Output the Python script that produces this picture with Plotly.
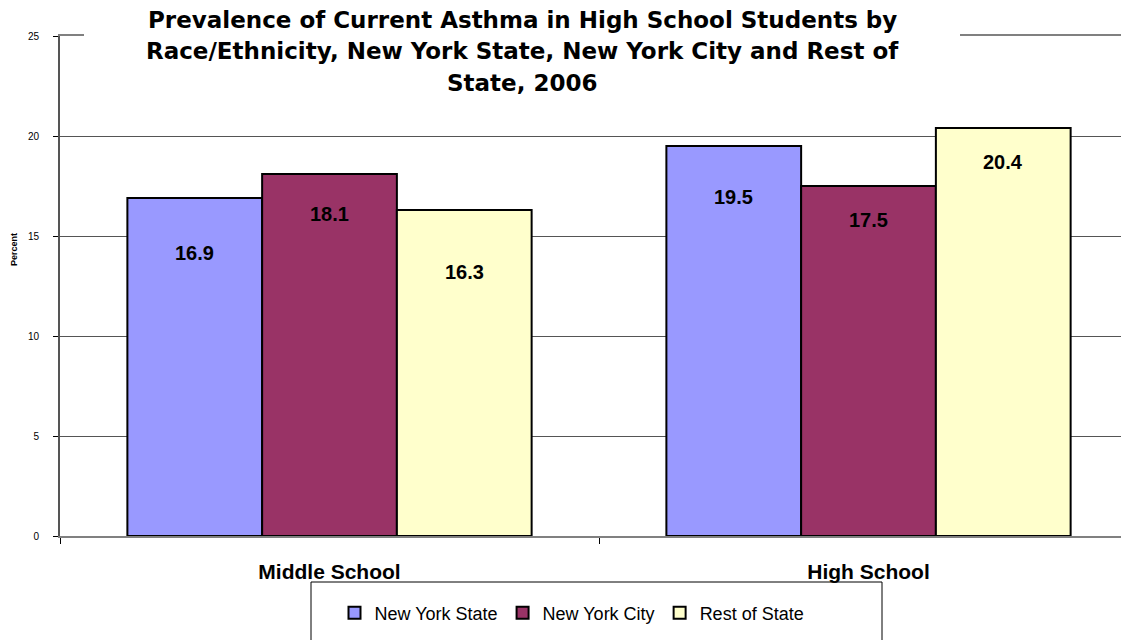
import plotly.graph_objects as go

categories = ["Middle School", "High School"]
series_names = ["New York State", "New York City", "Rest of State"]
nys_values = [16.9, 19.5]
nyc_values = [18.1, 17.5]
ros_values = [16.3, 20.4]
series_values = [nys_values, nyc_values, ros_values]
y_ticks = [0, 5, 10, 15, 20, 25]
title_lines = [
    "Prevalence of Current Asthma in High School Students by",
    "Race/Ethnicity, New York State, New York City and Rest of",
    "State, 2006",
]

colors = ["#9999FF", "#993366", "#FFFFCC"]
label_drop_px = [[55, 51], [40, 34], [62, 34]]

OFF = 8  # page body margin
W, H = 1129 - OFF, 640 - OFF
ML, MR, MT, MB = 60 - OFF, 0, 36 - OFF, 104
PW, PH = W - ML - MR, H - MT - MB


def px_x(p):
    return (p - OFF - ML) / PW


def px_y(p):
    return (H - MB - (p - OFF)) / PH


FONT = "Arial, Liberation Sans, sans-serif"
BARGAP = 0.25

fig = go.Figure()
for name, vals, col in zip(series_names, series_values, colors):
    fig.add_trace(go.Bar(
        name=name, x=categories, y=vals,
        marker=dict(color=col, line=dict(color="black", width=2)),
    ))

annotations = []
n = len(series_names)
bw = (1 - BARGAP) / n
for k, vals in enumerate(series_values):
    for i, v in enumerate(vals):
        annotations.append(dict(
            x=i - (1 - BARGAP) / 2 + bw * (k + 0.5), y=v, xref="x", yref="y",
            text=f"<b>{v:.1f}</b>", showarrow=False, yanchor="middle",
            yshift=-label_drop_px[k][i],
            font=dict(family=FONT, size=20, color="black"),
        ))

title_y_px = [20, 51, 83]
for line, yp in zip(title_lines, title_y_px):
    annotations.append(dict(
        x=px_x(522), y=px_y(yp), xref="paper", yref="paper",
        text=f"<b>{line}</b>", showarrow=False, xanchor="center", yanchor="middle",
        font=dict(family="DejaVu Sans", size=23, color="black"),
    ))

annotations.append(dict(
    x=px_x(14), y=px_y(250), xref="paper", yref="paper", text="<b>Percent</b>",
    showarrow=False, textangle=-90, xanchor="center", yanchor="middle",
    font=dict(family=FONT, size=9, color="black"),
))

shapes = [
    dict(type="rect", xref="paper", yref="paper", x0=px_x(84), x1=px_x(960),
         y0=px_y(42), y1=px_y(30), fillcolor="white", line=dict(width=0), layer="above"),
    dict(type="rect", xref="paper", yref="paper", x0=px_x(311), x1=px_x(882),
         y0=px_y(660), y1=px_y(582), fillcolor="rgba(0,0,0,0)",
         line=dict(color="black", width=1), layer="above"),
]

fig.update_layout(
    width=W, height=H,
    margin=dict(l=ML, r=MR, t=MT, b=MB, pad=0),
    paper_bgcolor="white", plot_bgcolor="white",
    barmode="group", bargap=BARGAP, bargroupgap=0,
    showlegend=True,
    legend=dict(orientation="h", x=px_x(572), xanchor="center", y=px_y(613), yanchor="middle",
                font=dict(family=FONT, size=18, color="black"), bgcolor="rgba(0,0,0,0)",
                traceorder="normal"),
    annotations=annotations,
    shapes=shapes,
    xaxis=dict(
        range=[-0.5, -0.5 + PW / 539], showgrid=False,
        showline=True, linecolor="#808080", linewidth=2, mirror=True,
        ticks="outside", tickson="boundaries", ticklen=6, tickcolor="black", tickwidth=1,
        tickfont=dict(family=FONT, size=21, color="black"),
        ticklabelstandoff=16,
    ),
    yaxis=dict(
        range=[0, 25], tickvals=y_ticks, showgrid=True, gridcolor="#555555", gridwidth=1,
        showline=True, linecolor="#555555", linewidth=2,
        ticks="outside", ticklen=5, tickcolor="black",
        tickfont=dict(family=FONT, size=10, color="black"),
        ticklabelstandoff=12, zeroline=False,
    ),
)
fig.update_xaxes(tickvals=[0, 1], ticktext=[f"<b>{c}</b>" for c in categories])

fig.write_html("out.html")
